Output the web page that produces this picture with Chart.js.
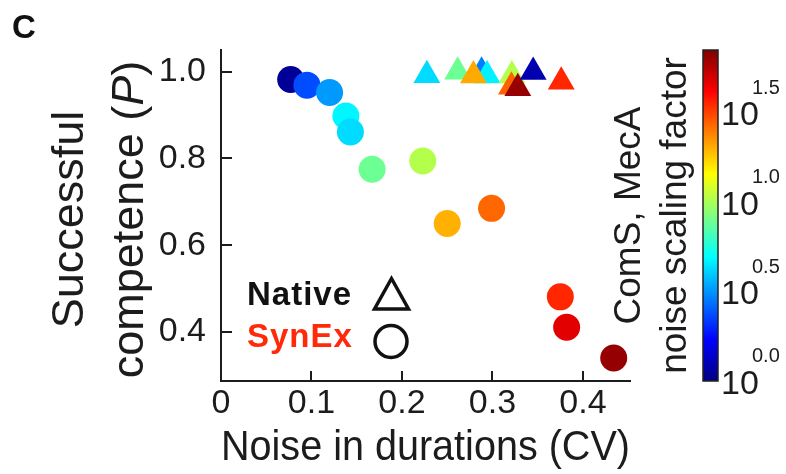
<!DOCTYPE html>
<html>
<head>
<meta charset="utf-8">
<script src="https://cdn.jsdelivr.net/npm/chart.js@4/dist/chart.umd.min.js"></script>
<style>
  html, body { margin: 0; padding: 0; background: #fff; }
  #wrap { width: 786px; height: 474px; }
</style>
</head>
<body>
<div id="wrap"><canvas id="c" width="786" height="474"></canvas></div>
<script>
// SynEx circuit: noise in durations (CV), successful competence P, log10 noise scaling factor
const synexCV = [0.077, 0.095, 0.120, 0.138, 0.143, 0.167, 0.223, 0.250, 0.299, 0.375, 0.382, 0.434];
const synexP = [0.982, 0.969, 0.952, 0.898, 0.861, 0.775, 0.794, 0.650, 0.685, 0.481, 0.411, 0.340];
const synexLogNoise = [0.04, 0.37, 0.51, 0.68, 0.63, 0.89, 1.02, 1.30, 1.43, 1.55, 1.67, 1.81];

// Native circuit (listed in drawing order)
const nativeCV = [0.288, 0.2615, 0.294, 0.279, 0.2275, 0.3215, 0.321, 0.328, 0.345, 0.376];
const nativeP = [1.0, 1.0, 0.991, 0.991, 0.992, 0.991, 0.965, 0.962, 0.999, 0.977];
const nativeLogNoise = [0.46, 0.89, 0.67, 1.31, 0.63, 1.02, 1.44, 1.81, 0.09, 1.55];

// Axis ticks
const xTicks = [0, 0.1, 0.2, 0.3, 0.4];
const yTicks = [0.4, 0.6, 0.8, 1.0];
const colorbarTicks = [0.0, 0.5, 1.0, 1.5];
const colorbarMax = 1.85;

const FONT = "'Liberation Sans', Arial, Helvetica, sans-serif";
const INK = '#1c1c1c';

function clamp01(v) { return Math.max(0, Math.min(1, v)); }
function jet(t) {
  t = clamp01(t);
  const r = clamp01(1.5 - Math.abs(4 * t - 3));
  const g = clamp01(1.5 - Math.abs(4 * t - 2));
  const b = clamp01(1.5 - Math.abs(4 * t - 1));
  return 'rgb(' + Math.round(r * 255) + ',' + Math.round(g * 255) + ',' + Math.round(b * 255) + ')';
}
const noiseColor = v => jet(v / colorbarMax);

function toPoints(xs, ys) { return xs.map((x, i) => ({ x: x, y: ys[i] })); }

// Inward tick marks on both axes
const inwardTicks = {
  id: 'inwardTicks',
  beforeDatasetsDraw(chart) {
    const { ctx, chartArea } = chart;
    const xs = chart.scales.x, ys = chart.scales.y;
    ctx.save();
    ctx.strokeStyle = INK;
    ctx.lineWidth = 2;
    ctx.beginPath();
    xTicks.forEach(v => {
      if (v === 0) return;
      const px = Math.round(xs.getPixelForValue(v));
      ctx.moveTo(px, chartArea.bottom);
      ctx.lineTo(px, chartArea.bottom - 10);
    });
    yTicks.forEach(v => {
      const py = Math.round(ys.getPixelForValue(v));
      ctx.moveTo(chartArea.left, py);
      ctx.lineTo(chartArea.left + 11, py);
    });
    ctx.stroke();
    ctx.restore();
  }
};

// Y title (two lines, italic P), legend box, panel letter, colour bar
const decorations = {
  id: 'decorations',
  afterDraw(chart) {
    const { ctx, chartArea } = chart;
    const cb = chart.scales.cb;
    ctx.save();

    // panel letter
    ctx.fillStyle = '#111';
    ctx.font = 'bold 33px ' + FONT;
    ctx.textAlign = 'left';
    ctx.textBaseline = 'alphabetic';
    ctx.fillText('C', 12, 38);

    // y-axis title
    const cy = (chartArea.top + chartArea.bottom) / 2 + 4;
    ctx.fillStyle = INK;
    ctx.save();
    ctx.translate(83, cy);
    ctx.rotate(-Math.PI / 2);
    ctx.font = '45px ' + FONT;
    ctx.textAlign = 'center';
    ctx.fillText('Successful', 0, 0);
    ctx.restore();

    ctx.save();
    ctx.translate(143, cy);
    ctx.rotate(-Math.PI / 2);
    const segs = [
      { t: 'competence (', f: '45px ' + FONT },
      { t: 'P', f: 'italic 45px ' + FONT },
      { t: ')', f: '45px ' + FONT }
    ];
    let total = 0;
    segs.forEach(s => { ctx.font = s.f; s.w = ctx.measureText(s.t).width; total += s.w; });
    let sx = -total / 2;
    ctx.textAlign = 'left';
    segs.forEach(s => { ctx.font = s.f; ctx.fillText(s.t, sx, 0); sx += s.w; });
    ctx.restore();

    // legend
    ctx.font = 'bold 33px ' + FONT;
    ctx.textAlign = 'left';
    ctx.textBaseline = 'alphabetic';
    ctx.letterSpacing = '1px';
    ctx.fillStyle = '#111';
    ctx.fillText('Native', 247, 305);
    ctx.fillStyle = '#ff2a0a';
    ctx.fillText('SynEx', 247, 347);
    ctx.letterSpacing = '0px';

    ctx.strokeStyle = '#111';
    ctx.lineWidth = 3.5;
    ctx.lineJoin = 'miter';
    ctx.beginPath();
    ctx.moveTo(391.5, 278.5);
    ctx.lineTo(408.5, 309);
    ctx.lineTo(374.5, 309);
    ctx.closePath();
    ctx.stroke();
    ctx.beginPath();
    ctx.arc(391, 341.5, 16, 0, Math.PI * 2);
    ctx.stroke();

    // colour bar
    const barL = 703, barR = 718;
    const top = cb.getPixelForValue(colorbarMax), bottom = cb.getPixelForValue(0);
    const grad = ctx.createLinearGradient(0, bottom, 0, top);
    for (let i = 0; i <= 32; i++) grad.addColorStop(i / 32, jet(i / 32));
    ctx.fillStyle = grad;
    ctx.fillRect(barL, top, barR - barL, bottom - top);
    ctx.strokeStyle = '#222';
    ctx.lineWidth = 1.5;
    ctx.strokeRect(barL, top, barR - barL, bottom - top);

    colorbarTicks.forEach(v => {
      const py = cb.getPixelForValue(v);
      ctx.fillStyle = INK;
      ctx.font = '34px ' + FONT;
      ctx.textAlign = 'left';
      ctx.textBaseline = 'alphabetic';
      ctx.fillText('10', 721, py + 12.5);
      ctx.font = '20px ' + FONT;
      ctx.fillText(v.toFixed(1), 752, py - 19);
    });

    // colour bar title
    ctx.save();
    ctx.translate(640, (top + bottom) / 2);
    ctx.rotate(-Math.PI / 2);
    ctx.font = '37px ' + FONT;
    ctx.textAlign = 'center';
    ctx.fillStyle = INK;
    ctx.fillText('ComS, MecA', 0, 0);
    ctx.restore();
    ctx.save();
    ctx.translate(686, (top + bottom) / 2);
    ctx.rotate(-Math.PI / 2);
    ctx.font = '37px ' + FONT;
    ctx.textAlign = 'center';
    ctx.fillStyle = INK;
    ctx.fillText('noise scaling factor', 0, 0);
    ctx.restore();

    ctx.restore();
  }
};

new Chart(document.getElementById('c'), {
  type: 'scatter',
  data: {
    datasets: [
      {
        label: 'Native',
        data: toPoints(nativeCV, nativeP),
        pointStyle: 'triangle',
        pointRadius: 15.5,
        borderWidth: 0,
        backgroundColor: nativeLogNoise.map(noiseColor),
        borderColor: nativeLogNoise.map(noiseColor)
      },
      {
        label: 'SynEx',
        data: toPoints(synexCV, synexP),
        pointStyle: 'circle',
        pointRadius: 13.5,
        borderWidth: 0,
        backgroundColor: synexLogNoise.map(noiseColor),
        borderColor: synexLogNoise.map(noiseColor)
      }
    ]
  },
  options: {
    responsive: false,
    animation: false,
    devicePixelRatio: 1,
    layout: { padding: { left: 0, right: 156, top: 50, bottom: 0 } },
    plugins: { legend: { display: false }, tooltip: { enabled: false } },
    scales: {
      x: {
        type: 'linear',
        min: 0,
        max: 0.452,
        afterBuildTicks: s => { s.ticks = xTicks.map(v => ({ value: v })); },
        afterFit: s => { s.height = 93; },
        grid: { display: false, drawTicks: false },
        border: { display: true, color: INK, width: 2 },
        ticks: {
          color: INK,
          padding: 2,
          font: { family: FONT, size: 34 },
          callback: v => (v === 0 ? '0' : v.toFixed(1))
        },
        title: {
          display: true,
          text: 'Noise in durations (CV)',
          color: INK,
          font: { family: FONT, size: 42 },
          padding: { top: 0, bottom: 0 }
        }
      },
      y: {
        type: 'linear',
        min: 0.287,
        max: 1.05,
        afterBuildTicks: s => { s.ticks = yTicks.map(v => ({ value: v })); },
        afterFit: s => { s.width = 221; },
        grid: { display: false, drawTicks: false },
        border: { display: true, color: INK, width: 2 },
        ticks: {
          color: INK,
          padding: 15,
          font: { family: FONT, size: 34 },
          callback: v => v.toFixed(1)
        }
      },
      cb: {
        type: 'linear',
        position: 'right',
        display: false,
        min: 0,
        max: colorbarMax
      }
    }
  },
  plugins: [inwardTicks, decorations]
});
</script>
</body>
</html>
